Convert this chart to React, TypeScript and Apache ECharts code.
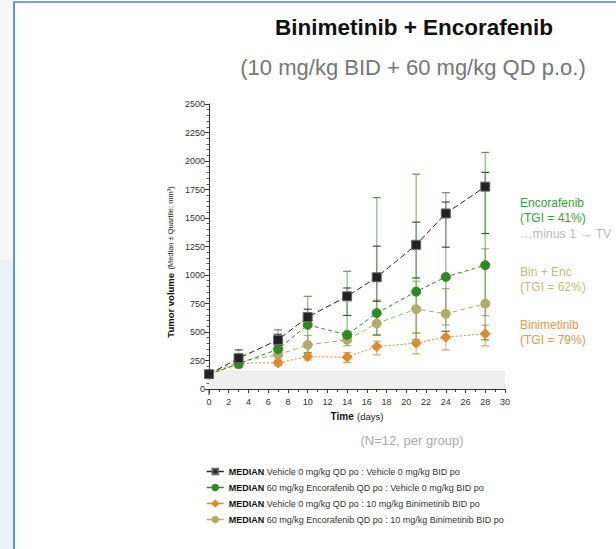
import React, { useEffect, useRef } from "react";
import * as echarts from "echarts";

const days = [0, 3, 7, 10, 14, 17, 21, 24, 28];

const vehicleMedian = [130, 270, 431, 631, 813, 980, 1265, 1540, 1775];
const vehicleQ1 = [118, 240, 380, 560, 645, 769, 974, 1244, 1364];
const vehicleQ3 = [142, 343, 480, 700, 886, 1253, 1464, 1640, 1900];

const encoMedian = [130, 220, 349, 563, 475, 666, 854, 983, 1086];
const encoQ1 = [118, 185, 290, 317, 437, 475, 431, 505, 431];
const encoQ3 = [142, 300, 519, 813, 1033, 1679, 1884, 1722, 2075];

const biniMedian = [130, 225, 230, 284, 279, 372, 402, 455, 484];
const biniQ1 = [118, 190, 205, 255, 232, 299, 308, 343, 378];
const biniQ3 = [142, 260, 250, 317, 320, 420, 490, 505, 560];

const comboMedian = [130, 240, 300, 387, 431, 575, 701, 660, 748];
const comboQ1 = [118, 200, 255, 300, 380, 470, 490, 561, 643];
const comboQ3 = [142, 290, 340, 470, 500, 780, 945, 880, 1230];

const seriesNames = [
  "Vehicle 0 mg/kg QD po : Vehicle 0 mg/kg BID po",
  "60 mg/kg Encorafenib QD po : Vehicle 0 mg/kg BID po",
  "Vehicle 0 mg/kg QD po : 10 mg/kg Binimetinib BID po",
  "60 mg/kg Encorafenib QD po : 10 mg/kg Binimetinib BID po",
];

const FONT = "'Liberation Sans', Arial, Helvetica, sans-serif";

function errorSeries(lo: number[], hi: number[], color: string, capColor: string) {
  const data = days.map((d, i) => [d, lo[i], hi[i]]);
  return {
    type: "custom",
    silent: true,
    z: 1,
    encode: { x: 0, y: [1, 2] },
    data,
    renderItem: (params: any, api: any) => {
      const x = api.value(0);
      const pLo = api.coord([x, api.value(1)]);
      const pHi = api.coord([x, api.value(2)]);
      const w = 4;
      return {
        type: "group",
        children: [
          { type: "line", shape: { x1: pLo[0], y1: pLo[1], x2: pHi[0], y2: pHi[1] }, style: { stroke: color, lineWidth: 1.5 } },
          { type: "line", shape: { x1: pLo[0] - w, y1: pLo[1], x2: pLo[0] + w, y2: pLo[1] }, style: { stroke: capColor, lineWidth: 1.2 } },
          { type: "line", shape: { x1: pHi[0] - w, y1: pHi[1], x2: pHi[0] + w, y2: pHi[1] }, style: { stroke: capColor, lineWidth: 1.2 } },
        ],
      };
    },
  };
}

function lineSeries(name: string, vals: number[], color: string, symbol: string, size: number, dash: number[], border: string) {
  return {
    name,
    type: "line",
    z: 3,
    data: days.map((d, i) => [d, vals[i]]),
    symbol,
    symbolSize: size,
    showSymbol: true,
    lineStyle: { color, width: 1, type: dash },
    itemStyle: { color, borderColor: border, borderWidth: 1 },
  };
}

export default function App() {
  const ref = useRef<HTMLDivElement>(null);
  useEffect(() => {
    if (!ref.current) return;
    const chart = echarts.init(ref.current, null, { renderer: "svg" });
    const option: any = {
      animation: false,
      backgroundColor: "#ffffff",
      textStyle: { fontFamily: FONT },
      grid: { left: 209, right: 111, top: 104, bottom: 160 },
      xAxis: {
        type: "value",
        min: 0,
        max: 30,
        interval: 2,
        offset: 6,
        name: "{b|Time} {n|(days)}",
        nameLocation: "middle",
        nameGap: 15,
        nameTextStyle: {
          rich: {
            b: { fontWeight: "bold", fontSize: 10, color: "#111", fontFamily: FONT },
            n: { fontSize: 9.5, color: "#222", fontFamily: FONT },
          },
        },
        axisLine: { show: true, lineStyle: { color: "#333", width: 1 } },
        axisTick: { show: true, length: 4, lineStyle: { color: "#333" } },
        minorTick: { show: true, splitNumber: 2, length: 3, lineStyle: { color: "#333" } },
        axisLabel: { fontSize: 9, color: "#333", margin: 2, fontFamily: FONT },
        splitLine: { show: false },
      },
      yAxis: {
        type: "value",
        min: 0,
        max: 2500,
        interval: 250,
        axisLine: { show: true, lineStyle: { color: "#333", width: 1 } },
        axisTick: { show: true, length: 4, lineStyle: { color: "#333" } },
        minorTick: { show: true, splitNumber: 5, length: 2.5, lineStyle: { color: "#555" } },
        axisLabel: { fontSize: 9, color: "#333", margin: 4, fontFamily: FONT, formatter: (v: number) => String(v) },
        splitLine: { show: false },
      },
      legend: {
        data: seriesNames,
        orient: "vertical",
        left: 201,
        top: 462,
        itemWidth: 17,
        itemHeight: 7,
        itemGap: 7,
        lineStyle: { type: "solid", width: 1.5 },
        formatter: (name: string) => `{b|MEDIAN} ${name}`,
        textStyle: {
          fontSize: 9,
          color: "#333",
          fontFamily: FONT,
          rich: { b: { fontWeight: "bold", fontSize: 9, color: "#111", fontFamily: FONT } },
        },
      },
      graphic: [
        { type: "rect", shape: { x: 0, y: 0, width: 13, height: 260 }, style: { fill: "#f7f7f7" }, silent: true },
        { type: "rect", shape: { x: 0, y: 260, width: 13, height: 289 }, style: { fill: "#eaf3fa" }, silent: true },
        { type: "line", shape: { x1: 14, y1: 2, x2: 14, y2: 549 }, style: { stroke: "#5b9bd5", lineWidth: 2 }, silent: true },
        { type: "line", shape: { x1: 13, y1: 2, x2: 616, y2: 2 }, style: { stroke: "#6fa8dc", lineWidth: 2 }, silent: true },
        { type: "line", shape: { x1: 209, y1: 389, x2: 209, y2: 395 }, style: { stroke: "#333", lineWidth: 1 }, silent: true },
        {
          type: "text", x: 170, y: 262, rotation: Math.PI / 2,
          style: {
            text: "{b|Tumor volume} {n|(Median ± Quartile; mm³)}",
            textAlign: "center",
            textVerticalAlign: "middle",
            fontFamily: FONT,
            rich: {
              b: { fontWeight: "bold", fontSize: 9.5, fill: "#111", fontFamily: FONT },
              n: { fontSize: 7.5, fill: "#222", fontFamily: FONT },
            },
          },
        },
        {
          type: "text", x: 414, y: 27,
          style: { text: "Binimetinib + Encorafenib", fontSize: 22.5, fontWeight: "bold", fill: "#111", textAlign: "center", textVerticalAlign: "middle", fontFamily: FONT },
        },
        {
          type: "text", x: 413, y: 67,
          style: { text: "(10 mg/kg BID + 60 mg/kg QD p.o.)", fontSize: 22, fill: "#777", textAlign: "center", textVerticalAlign: "middle", fontFamily: FONT },
        },
        { type: "text", x: 520, y: 203, style: { text: "Encorafenib", fontSize: 12, fill: "#3aa03a", textVerticalAlign: "middle", fontFamily: FONT } },
        { type: "text", x: 520, y: 218, style: { text: "(TGI = 41%)", fontSize: 12, fill: "#3aa03a", textVerticalAlign: "middle", fontFamily: FONT } },
        { type: "text", x: 520, y: 234, style: { text: "…minus 1 → TV", fontSize: 12.5, fill: "#bbbbbb", textVerticalAlign: "middle", fontFamily: FONT } },
        { type: "text", x: 520, y: 272, style: { text: "Bin + Enc", fontSize: 12, fill: "#c2bc7e", textVerticalAlign: "middle", fontFamily: FONT } },
        { type: "text", x: 520, y: 287, style: { text: "(TGI = 62%)", fontSize: 12, fill: "#c2bc7e", textVerticalAlign: "middle", fontFamily: FONT } },
        { type: "text", x: 520, y: 325, style: { text: "Binimetinib", fontSize: 12, fill: "#e09a4a", textVerticalAlign: "middle", fontFamily: FONT } },
        { type: "text", x: 520, y: 340, style: { text: "(TGI = 79%)", fontSize: 12, fill: "#e09a4a", textVerticalAlign: "middle", fontFamily: FONT } },
        {
          type: "text", x: 412, y: 440,
          style: { text: "(N=12, per group)", fontSize: 13, fill: "#aaaaaa", textAlign: "center", textVerticalAlign: "middle", fontFamily: FONT },
        },
      ],
      series: [
        {
          type: "line",
          data: [],
          silent: true,
          markArea: {
            silent: true,
            itemStyle: { color: "#efefef" },
            data: [[{ coord: [0, 0] }, { coord: [30, 165] }]],
          },
        },
        errorSeries(comboQ1, comboQ3, "rgba(175,170,95,0.55)", "rgba(160,155,80,0.8)"),
        errorSeries(biniQ1, biniQ3, "rgba(230,150,70,0.55)", "rgba(220,140,60,0.8)"),
        errorSeries(encoQ1, encoQ3, "rgba(70,140,60,0.5)", "rgba(60,120,50,0.8)"),
        errorSeries(vehicleQ1, vehicleQ3, "rgba(80,120,70,0.45)", "rgba(40,50,40,0.85)"),
        lineSeries(seriesNames[3], comboMedian, "#b0ac6c", "circle", 9, [5, 3], "#b0ac6c"),
        lineSeries(seriesNames[2], biniMedian, "#e08a2a", "diamond", 10, [2, 2], "#e08a2a"),
        lineSeries(seriesNames[1], encoMedian, "#2e8b22", "circle", 9, [4, 3], "#2e8b22"),
        lineSeries(seriesNames[0], vehicleMedian, "#222222", "rect", 9, [6, 3], "#666666"),
      ],
    };
    chart.setOption(option);
    return () => chart.dispose();
  }, []);
  return (
    <div style={{ position: "fixed", left: 0, top: 0, width: 616, height: 549 }}>
      <div ref={ref} style={{ width: 616, height: 549 }} />
    </div>
  );
}
